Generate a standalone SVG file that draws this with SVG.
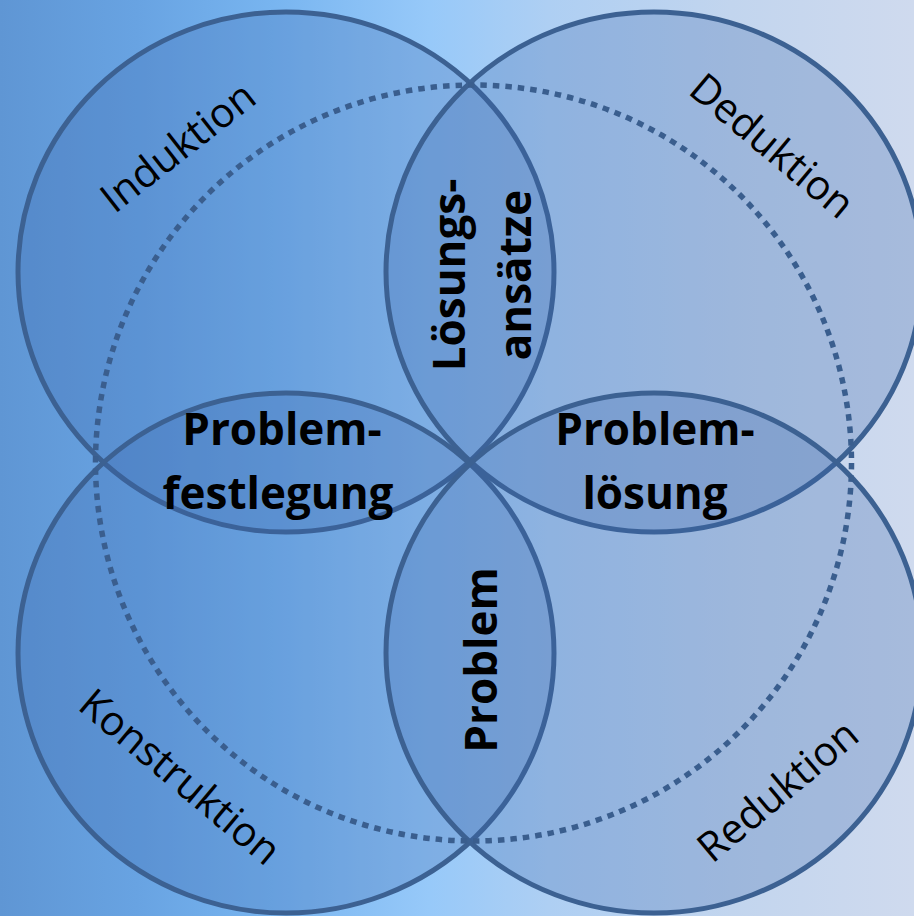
<svg xmlns="http://www.w3.org/2000/svg" width="914" height="916" viewBox="0 0 914 916">
  <defs>
    <linearGradient id="bg" x1="0" y1="0" x2="1" y2="0">
      <stop offset="0" stop-color="#5f96d4"/>
      <stop offset="0.15" stop-color="#68a3e2"/>
      <stop offset="0.3" stop-color="#78b5f0"/>
      <stop offset="0.47" stop-color="#97c9f9"/>
      <stop offset="0.6" stop-color="#aecff3"/>
      <stop offset="0.8" stop-color="#c2d5ee"/>
      <stop offset="1" stop-color="#cfdaee"/>
    </linearGradient>
  </defs>
  <style>
    .set { fill: #3a68ac; fill-opacity: 0.27; stroke: #3c6192; stroke-width: 5; }
    .ring { fill: none; stroke: #3a5e8e; stroke-width: 5.5; stroke-dasharray: 6.5 6; }
    .outer { font-family: "Open Sans", "Liberation Sans", sans-serif; font-size: 41px; fill: #000; text-anchor: middle; }
    .inner { font-family: "Open Sans", "Liberation Sans", sans-serif; font-size: 44px; font-weight: bold; fill: #000; text-anchor: middle; }
  </style>

  <rect x="0" y="0" width="914" height="916" fill="url(#bg)"/>

  <!-- four overlapping sets -->
  <g id="induktion">
    <ellipse class="set" cx="286" cy="272" rx="268" ry="260"/>
  </g>
  <g id="deduktion">
    <ellipse class="set" cx="654" cy="272" rx="268" ry="260"/>
  </g>
  <g id="konstruktion">
    <ellipse class="set" cx="286" cy="653" rx="268" ry="260"/>
  </g>
  <g id="reduktion">
    <ellipse class="set" cx="654" cy="653" rx="268" ry="260"/>
  </g>

  <!-- dotted ring through the intersections -->
  <g id="connectors">
    <circle class="ring" cx="473.5" cy="463" r="378"/>
  </g>

  <!-- set labels -->
  <g id="label-induktion">
    <text class="outer" transform="translate(178,147) rotate(-38)" dy="14">Induktion</text>
  </g>
  <g id="label-deduktion">
    <text class="outer" transform="translate(772,146) rotate(40)" dy="14">Deduktion</text>
  </g>
  <g id="label-konstruktion">
    <text class="outer" transform="translate(180,777) rotate(40)" dy="14">Konstruktion</text>
  </g>
  <g id="label-reduktion">
    <text class="outer" transform="translate(778,791) rotate(-40)" dy="14">Reduktion</text>
  </g>

  <!-- intersection labels -->
  <g id="loesungsansaetze">
    <text class="inner" transform="translate(465,275) rotate(-90)">Lösungs-</text>
    <text class="inner" transform="translate(531,275) rotate(-90)">ansätze</text>
  </g>
  <g id="problemfestlegung">
    <text class="inner" x="282" y="445">Problem-</text>
    <text class="inner" x="278" y="509">festlegung</text>
  </g>
  <g id="problemloesung">
    <text class="inner" x="655" y="445">Problem-</text>
    <text class="inner" x="655" y="509">lösung</text>
  </g>
  <g id="problem">
    <text class="inner" transform="translate(497,660) rotate(-90)">Problem</text>
  </g>
</svg>
